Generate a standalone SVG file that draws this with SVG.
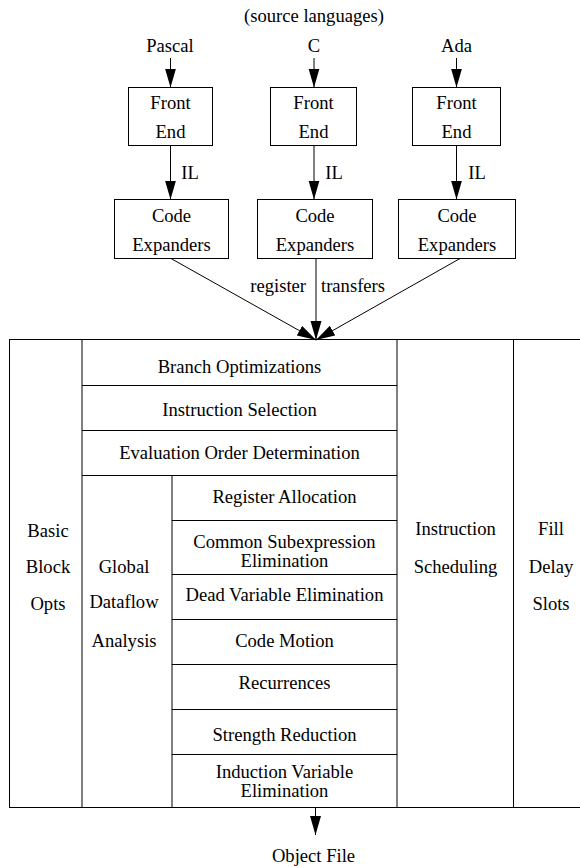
<svg xmlns="http://www.w3.org/2000/svg" width="580" height="866" viewBox="0 0 580 866" font-family="Liberation Serif, Times New Roman, serif">
<defs>
<marker id="ah" markerUnits="userSpaceOnUse" markerWidth="20" markerHeight="12" refX="19" refY="5.5" orient="auto">
<path d="M0,0 L19,5.5 L0,11 z" fill="#000"/>
</marker>
</defs>
<style>
text{font-family:'Liberation Serif','Times New Roman',Times,serif;font-size:18.6px;fill:#000;text-anchor:middle}
.box{fill:#fff;stroke:#000;stroke-width:1}
.ln{stroke:#000;stroke-width:1;fill:none}
.arr{stroke:#000;stroke-width:1;fill:none;marker-end:url(#ah)}
</style>
<rect width="580" height="866" fill="#fff"/>
<g id="title"><text x="314" y="22">(source languages)</text></g>
<g id="lang-pascal"><text x="170" y="52">Pascal</text></g>
<g id="lang-c"><text x="314" y="52">C</text></g>
<g id="lang-ada"><text x="456.5" y="52">Ada</text></g>
<g id="fe-pascal"><rect class="box" x="128.5" y="87.5" width="84" height="58"/><text x="170.5" y="109">Front</text><text x="170.5" y="138">End</text></g>
<g id="fe-c"><rect class="box" x="270.5" y="87.5" width="86" height="58"/><text x="313.5" y="109">Front</text><text x="313.5" y="138">End</text></g>
<g id="fe-ada"><rect class="box" x="412.5" y="87.5" width="88" height="58"/><text x="456.5" y="109">Front</text><text x="456.5" y="138">End</text></g>
<g id="ce-pascal"><rect class="box" x="114.5" y="199.5" width="114" height="59"/><text x="171.5" y="222">Code</text><text x="171.5" y="251">Expanders</text></g>
<g id="ce-c"><rect class="box" x="257.5" y="199.5" width="115" height="59"/><text x="315" y="222">Code</text><text x="315" y="251">Expanders</text></g>
<g id="ce-ada"><rect class="box" x="398.5" y="199.5" width="117" height="59"/><text x="457" y="222">Code</text><text x="457" y="251">Expanders</text></g>
<g id="connectors">
<line class="arr" x1="170.5" y1="58" x2="170.5" y2="87.5"/>
<line class="arr" x1="314" y1="58" x2="314" y2="87.5"/>
<line class="arr" x1="456.5" y1="58" x2="456.5" y2="87.5"/>
<line class="arr" x1="170.5" y1="145.5" x2="170.5" y2="199.5"/>
<line class="arr" x1="314" y1="145.5" x2="314" y2="199.5"/>
<line class="arr" x1="456.5" y1="145.5" x2="456.5" y2="199.5"/>
<line class="arr" x1="171" y1="258.5" x2="316" y2="340"/>
<line class="arr" x1="316" y1="258.5" x2="316" y2="340"/>
<line class="arr" x1="460" y1="258.5" x2="316" y2="340"/>
<line class="arr" x1="315.5" y1="808" x2="315.5" y2="835"/>
</g>
<g id="labels">
<text x="190" y="179">IL</text>
<text x="334" y="179">IL</text>
<text x="477" y="179">IL</text>
<text x="306" y="292" style="text-anchor:end">register</text>
<text x="321" y="292" style="text-anchor:start">transfers</text>
</g>
<g id="table">
<rect class="ln" x="9.5" y="339.5" width="580" height="468"/>
<line class="ln" x1="82" y1="339.5" x2="82" y2="807.5"/>
<line class="ln" x1="397" y1="339.5" x2="397" y2="807.5"/>
<line class="ln" x1="513.5" y1="339.5" x2="513.5" y2="807.5"/>
<line class="ln" x1="172" y1="475.5" x2="172" y2="807.5"/>
<line class="ln" x1="82" y1="385.5" x2="397" y2="385.5"/>
<line class="ln" x1="82" y1="430.5" x2="397" y2="430.5"/>
<line class="ln" x1="82" y1="475.5" x2="397" y2="475.5"/>
<line class="ln" x1="172" y1="520.5" x2="397" y2="520.5"/>
<line class="ln" x1="172" y1="574.5" x2="397" y2="574.5"/>
<line class="ln" x1="172" y1="619.5" x2="397" y2="619.5"/>
<line class="ln" x1="172" y1="664.5" x2="397" y2="664.5"/>
<line class="ln" x1="172" y1="709.5" x2="397" y2="709.5"/>
<line class="ln" x1="172" y1="754.5" x2="397" y2="754.5"/>
</g>
<g id="basic-block-opts"><text x="48" y="537">Basic</text><text x="48" y="573">Block</text><text x="48" y="610">Opts</text></g>
<g id="branch-opt"><text x="239.5" y="373">Branch Optimizations</text></g>
<g id="instr-sel"><text x="239.5" y="416">Instruction Selection</text></g>
<g id="eval-order"><text x="239.5" y="459">Evaluation Order Determination</text></g>
<g id="global-dataflow"><text x="124" y="573">Global</text><text x="124" y="608">Dataflow</text><text x="124" y="647">Analysis</text></g>
<g id="reg-alloc"><text x="284.5" y="503">Register Allocation</text></g>
<g id="cse"><text x="284.5" y="548">Common Subexpression</text><text x="284.5" y="567">Elimination</text></g>
<g id="dve"><text x="284.5" y="601">Dead Variable Elimination</text></g>
<g id="code-motion"><text x="284.5" y="647">Code Motion</text></g>
<g id="recurrences"><text x="284.5" y="689">Recurrences</text></g>
<g id="strength-red"><text x="284.5" y="741">Strength Reduction</text></g>
<g id="ive"><text x="284.5" y="778">Induction Variable</text><text x="284.5" y="797">Elimination</text></g>
<g id="instr-sched"><text x="455.5" y="535">Instruction</text><text x="455.5" y="573">Scheduling</text></g>
<g id="fill-delay"><text x="551" y="535">Fill</text><text x="551" y="573">Delay</text><text x="551" y="610">Slots</text></g>
<g id="object-file"><text x="313.5" y="862">Object File</text></g>
</svg>
